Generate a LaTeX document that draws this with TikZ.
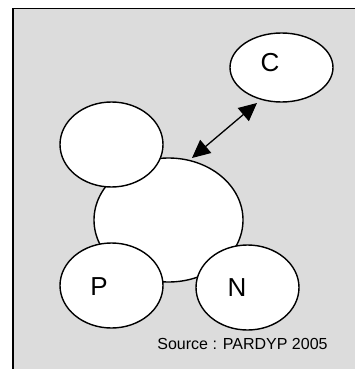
\documentclass[tikz,border=0pt]{standalone}
\usepackage{fontspec}
\setmainfont{Liberation Sans}
\usetikzlibrary{arrows.meta}
\definecolor{bggray}{RGB}{220,220,220}
\tikzset{
  blob/.style={draw=black, fill=white, line width=1.4pt},
  lbl/.style={font=\fontsize{26}{28}\selectfont, inner sep=0pt},
  bigtri/.tip={Triangle[length=18pt,width=17pt]},
}
\begin{document}
\begin{tikzpicture}[x=1pt,y=-1pt]
\useasboundingbox (0,0) rectangle (354,369);
\fill[bggray] (13,9) rectangle (360,375);
\draw[line width=2.2pt] (13,8.5) -- (13,375);
\draw[line width=1pt] (12,9) -- (360,9);
% central ellipse first, satellites on top
\draw[blob] (168.5,220) ellipse [x radius=74.5, y radius=62];
\draw[blob] (111.5,144.5) ellipse [x radius=51.5, y radius=42.5];
\draw[blob] (111.5,285.5) ellipse [x radius=51.5, y radius=42.5];
\draw[blob] (247.5,287.5) ellipse [x radius=51.5, y radius=42.5];
\draw[blob] (281.5,67.5) ellipse [x radius=51.5, y radius=34.5];
% labels
\node[lbl] (lc) at (270,63) {C};
\node[lbl] (lp) at (99,287) {P};
\node[lbl] (ln) at (237,288) {N};
\node[font=\fontsize{16}{18}\selectfont, inner sep=0pt] (src) at (242.5,344) {Source : PARDYP 2005};
% arrow
\coordinate (a1) at (192,158);
\coordinate (a2) at (257,103);
\draw[line width=1.3pt, bigtri-bigtri] (a1) -- (a2);
\end{tikzpicture}
\end{document}
